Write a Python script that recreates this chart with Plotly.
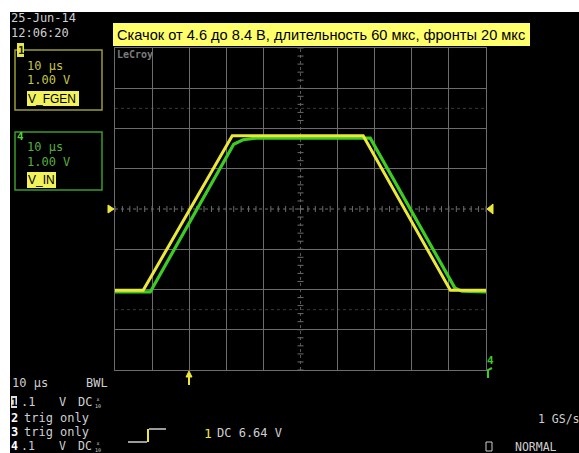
import plotly.graph_objects as go

# ---- screen data (time in µs from trigger, voltage in V) ----
t_fgen = [-20.0, -12.4, 11.6, 46.9, 70.4, 80.0]
v_fgen = [4.62, 4.62, 8.46, 8.46, 4.62, 4.62]

t_in = [-20.0, -10.5, 12.0, 14.5, 18.0, 48.8, 71.6, 73.5, 80.0]
v_in = [4.58, 4.58, 8.25, 8.36, 8.40, 8.40, 4.68, 4.60, 4.58]

# horizontal: 10 µs/div, 10 divisions; vertical: 1 V/div, 8 divisions around offset
t_start, t_div, n_tdiv = -20.0, 10.0, 10
v_center, v_div, n_vdiv = 6.64, 1.0, 8

title_text = "Скачок от 4.6 до 8.4 В, длительность 60 мкс, фронты 20 мкс"

W, H = 579, 453
YEL = "#ece83a"
GRN = "#3ccc22"
GRID = "#6c6c6c"
TXT = "#cfcfcf"
MONO = "DejaVu Sans Mono, monospace"
SANS = "Liberation Sans, Arial, sans-serif"

# plot area in pixels
PL, PR, PT, PB = 115, 486, 48, 370


def px(x):
    return x / W


def py(y):
    return 1 - y / H


t_end = t_start + n_tdiv * t_div
v_lo = v_center - n_vdiv / 2 * v_div
v_hi = v_center + n_vdiv / 2 * v_div
t_mid = (t_start + t_end) / 2

fig = go.Figure()
fig.add_trace(go.Scatter(x=t_in, y=v_in, mode="lines",
                         line=dict(color=GRN, width=3.2), hoverinfo="skip"))
fig.add_trace(go.Scatter(x=t_fgen, y=v_fgen, mode="lines",
                         line=dict(color=YEL, width=3), hoverinfo="skip"))

xgrid = [t_start + i * t_div for i in range(1, n_tdiv) if i != n_tdiv // 2]
ygrid = [v_lo + i * v_div for i in range(1, n_vdiv) if i != n_vdiv // 2]

shapes = []
ann = []

# white strips along top and left edge of the capture
shapes.append(dict(type="rect", xref="paper", yref="paper", x0=0, x1=1,
                   y0=py(12), y1=1, fillcolor="white", line=dict(width=0), layer="above"))
shapes.append(dict(type="rect", xref="paper", yref="paper", x0=0, x1=px(10),
                   y0=0, y1=1, fillcolor="white", line=dict(width=0), layer="above"))

# dotted centre lines
shapes.append(dict(type="line", xref="x", yref="y", x0=t_start, x1=t_end,
                   y0=v_center, y1=v_center, line=dict(color=GRID, width=1, dash="dot"),
                   layer="below"))
shapes.append(dict(type="line", xref="x", yref="y", x0=t_mid, x1=t_mid,
                   y0=v_lo, y1=v_hi, line=dict(color="#555555", width=1, dash="dot"),
                   layer="below"))
# faint reference lines at ±2.5 div
for k in (-2.5, 2.5):
    shapes.append(dict(type="line", xref="x", yref="y", x0=t_start, x1=t_end,
                       y0=v_center + k * v_div, y1=v_center + k * v_div,
                       line=dict(color="#3a3a3a", width=1, dash="dot"), layer="below"))

# minor ticks on the centre lines
tick_v = 3 / 40.25
tick_t = 3 / 3.71
p = ""
for i in range(n_tdiv * 5 + 1):
    t = t_start + i * t_div / 5
    p += f"M{t},{v_center - tick_v} L{t},{v_center + tick_v} "
for i in range(n_vdiv * 5 + 1):
    v = v_lo + i * v_div / 5
    p += f"M{t_mid - tick_t},{v} L{t_mid + tick_t},{v} "
shapes.append(dict(type="path", xref="x", yref="y", path=p,
                   line=dict(color=GRID, width=1), layer="below"))


def rect(x0, y0, x1, y1, fill=None, line=None, lw=1, layer="above"):
    shapes.append(dict(type="rect", xref="paper", yref="paper",
                       x0=px(x0), x1=px(x1), y0=py(y1), y1=py(y0),
                       fillcolor=fill if fill else "rgba(0,0,0,0)",
                       line=dict(color=line if line else "rgba(0,0,0,0)", width=lw if line else 0),
                       layer=layer))


def seg(pts, color, width=1.5, fill=None):
    d = "M" + " L".join(f"{px(x)},{py(y)}" for x, y in pts)
    if fill:
        d += " Z"
    shapes.append(dict(type="path", xref="paper", yref="paper", path=d,
                       line=dict(color=color, width=width),
                       fillcolor=fill if fill else "rgba(0,0,0,0)", layer="above"))


def txt(x, y, s, color=TXT, size=12, family=MONO, anchor="left", bg=None):
    ann.append(dict(xref="paper", yref="paper", x=px(x), y=py(y), text=s,
                    showarrow=False, xanchor=anchor, yanchor="middle",
                    font=dict(color=color, size=size, family=family),
                    bgcolor=bg if bg else "rgba(0,0,0,0)", borderpad=0))


# title banner
rect(113, 23, 530, 46, fill="#ffff6c")
txt(116, 35, title_text, color="black", size=14.6, family=SANS)

# date / time
txt(10, 18, "25-Jun-14")
txt(10, 33, "12:06:20")
txt(116, 55, "<b>LeCroy</b>", color="#7c7c7c", size=10)

# channel 1 descriptor box
rect(15, 50, 102, 110, line="#9c9c34", lw=1.5)
rect(17, 43, 24, 57, fill="#e8e84a")
txt(16.5, 50, "<b>1</b>", color="#202000", size=11)
txt(26, 66, "10 µs", color="#c4c44a")
txt(26, 80, "1.00 V", color="#c4c44a")
rect(27, 91, 79, 106, fill="#f2f25c")
txt(27, 99, "V_FGEN", color="black", size=12, family=SANS)

# channel 4 descriptor box
rect(15, 132, 102, 190, line="#3c9a2a", lw=1.5)
txt(16, 136, "<b>4</b>", color="#5ad03a", size=11)
txt(26, 147, "10 µs", color="#56ae3e")
txt(26, 162, "1.00 V", color="#56ae3e")
rect(27, 172, 56, 188, fill="#f2f25c")
txt(27, 180, "V_IN", color="black", size=12, family=SANS)

# trigger level markers
seg([(108, 205), (114, 209), (108, 213)], YEL, 1, fill=YEL)
seg([(493, 204), (487, 209), (493, 214)], YEL, 1, fill=YEL)
# trigger position arrow
seg([(186, 377), (189, 371), (192, 377)], YEL, 1, fill=YEL)
seg([(189, 376), (189, 385)], YEL, 2)
# channel 4 marker on the right edge
txt(486, 360, "<b>4</b>", color=GRN, size=11)
seg([(488, 378), (488, 370), (492, 368)], GRN, 2)

# bottom status area
txt(11, 383, "10 µs")
txt(85, 383, "BWL")


def channel_row(y, size=12):
    txt(20, y, ".1", size=size)
    txt(58, y, "V", size=size)
    txt(77, y, "DC", size=size)
    txt(93.5, y, "x<br>10", size=5)


rect(11, 396, 17, 408, fill="#e0e0e0")
txt(10, 402, "<b>1</b>", color="black", size=11)
channel_row(402)
txt(10, 417.5, "<b>2</b>", color="white", size=12)
txt(23, 417.5, "trig only")
txt(10, 432, "<b>3</b>", color="white", size=12)
txt(23, 432, "trig only")
txt(10, 446, "<b>4</b>", color="white", size=11.5)
channel_row(446, size=11.5)

# trigger slope symbol
seg([(128, 442), (147, 442)], TXT, 1.5)
seg([(148, 442), (148, 429)], YEL, 2)
seg([(149, 429), (166, 429)], TXT, 1.5)
txt(203, 433, "1", color=YEL, size=13)
txt(216, 433, "DC 6.64 V")

txt(537, 419, "1 GS/s", size=11.5)
rect(486, 442, 492, 451, line=TXT, lw=1)
txt(514, 446.5, "NORMAL", size=11.5)

axis_common = dict(showticklabels=False, ticks="", zeroline=False, showline=True,
                   mirror=True, linecolor=GRID, linewidth=1, showgrid=True,
                   gridcolor=GRID, gridwidth=1, fixedrange=True)

fig.update_layout(
    width=W, height=H,
    margin=dict(l=0, r=0, t=0, b=0),
    paper_bgcolor="black",
    plot_bgcolor="black",
    showlegend=False,
    xaxis=dict(domain=[px(PL), px(PR)], range=[t_start, t_end],
               tickvals=xgrid, **axis_common),
    yaxis=dict(domain=[py(PB), py(PT)], range=[v_lo, v_hi],
               tickvals=ygrid, **axis_common),
    shapes=shapes,
    annotations=ann,
)

fig.write_html("out.html")
